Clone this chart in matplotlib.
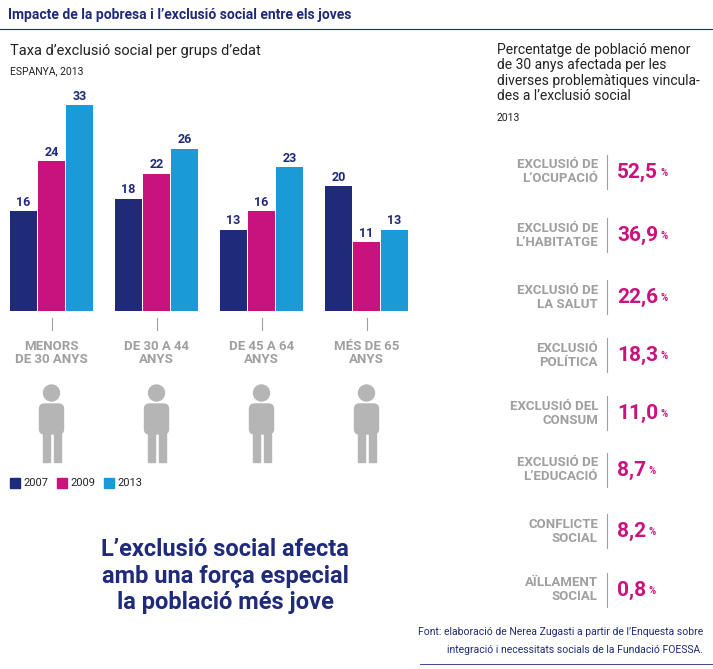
import matplotlib
matplotlib.use("Agg")
import matplotlib.pyplot as plt
from matplotlib.patches import Circle, FancyBboxPatch, Rectangle

plt.rcParams["font.family"] = ["Roboto", "DejaVu Sans"]

NAVY = "#1f2a7a"
MAGENTA = "#c8137f"
CYAN = "#1a9bd7"
GREY = "#a0a0a0"

groups = ["MENORS\nDE 30 ANYS", "DE 30 A 44\nANYS", "DE 45 A 64\nANYS", "MÉS DE 65\nANYS"]
years = ["2007", "2009", "2013"]
v2007 = [16, 18, 13, 20]
v2009 = [24, 22, 16, 11]
v2013 = [33, 26, 23, 13]

issues = ["EXCLUSIÓ DE\nL’OCUPACIÓ", "EXCLUSIÓ DE\nL’HABITATGE", "EXCLUSIÓ DE\nLA SALUT",
          "EXCLUSIÓ\nPOLÍTICA", "EXCLUSIÓ DEL\nCONSUM", "EXCLUSIÓ DE\nL’EDUCACIÓ",
          "CONFLICTE\nSOCIAL", "AÏLLAMENT\nSOCIAL"]
issue_vals = ["52,5", "36,9", "22,6", "18,3", "11,0", "8,7", "8,2", "0,8"]

W, H = 713, 669
fig = plt.figure(figsize=(W / 100, H / 100), dpi=100)
bg = fig.add_axes([0, 0, 1, 1])
bg.set_xlim(0, W)
bg.set_ylim(H, 0)
bg.axis("off")

# title
bg.text(8, 15, "Impacte de la pobresa i l’exclusió social entre els joves",
        fontsize=10, fontweight="bold", color=NAVY, va="center")
bg.plot([0, W], [29, 29], color=NAVY, lw=0.8)
bg.text(10, 51, "Taxa d’exclusió social per grups d’edat", fontsize=10.5, color="#222222", va="center")
bg.text(10, 71, "ESPANYA, 2013", fontsize=7.5, color="#222222", va="center")

# bars
ax = fig.add_axes([10 / W, (H - 311) / H, 400 / W, 206 / H])
ax.set_xlim(0, 400)
ax.set_ylim(0, 33)
ax.axis("off")
centers = [41.5 + 105 * i for i in range(len(groups))]
for off, vals, col in zip([-28, 0, 28], [v2007, v2009, v2013], [NAVY, MAGENTA, CYAN]):
    xs = [c + off for c in centers]
    ax.bar(xs, vals, width=27, color=col)
    for x, v in zip(xs, vals):
        ax.text(x, v + 0.4, str(v), ha="center", va="bottom", fontsize=9,
                fontweight="bold", color=NAVY)

for i, g in enumerate(groups):
    cx = 10 + centers[i]
    bg.plot([cx, cx], [318, 330], color=GREY, lw=0.8)
    bg.text(cx, 353, g, ha="center", va="center", fontsize=9.5, fontweight="bold",
            color=GREY, linespacing=1.0)
    # simple person icon
    bg.add_patch(Circle((cx, 393), 8, color="#b5b5b5"))
    bg.add_patch(FancyBboxPatch((cx - 12, 404), 24, 30, boxstyle="round,pad=0,rounding_size=5",
                                color="#b5b5b5"))
    bg.add_patch(Rectangle((cx - 9, 434), 7, 28, color="#b5b5b5"))
    bg.add_patch(Rectangle((cx + 2, 434), 7, 28, color="#b5b5b5"))

# legend
lx = 10
for y, col in zip(years, [NAVY, MAGENTA, CYAN]):
    bg.add_patch(Rectangle((lx, 478), 10, 10, color=col))
    bg.text(lx + 13, 483, y, fontsize=8, va="center", color="#222222")
    lx += 47

bg.text(225, 576, "L’exclusió social afecta\namb una força especial\nla població més jove",
        ha="center", va="center", fontsize=17, fontweight="bold", color=NAVY, linespacing=1.2)

# right panel
bg.text(497, 73, "Percentatge de població menor\nde 30 anys afectada per les\ndiverses problemàtiques vincula-\ndes a l’exclusió social",
        fontsize=10, va="center", color="#222222", linespacing=1.1)
bg.text(497, 118, "2013", fontsize=7.5, va="center", color="#222222")
rows = [172, 235, 297, 355, 413, 470, 531, 590]
for y, lab, val in zip(rows, issues, issue_vals):
    bg.text(598, y, lab, ha="right", va="center", fontsize=9.5, fontweight="bold",
            color=GREY, linespacing=1.1)
    bg.plot([607, 607], [y - 17, y + 17], color=GREY, lw=0.8)
    t = bg.text(617, y, val, ha="left", va="center", fontsize=15, fontweight="bold", color=MAGENTA)
    bg.annotate("%", xy=(1, 0.2), xycoords=t, xytext=(2, 0), textcoords="offset points",
                ha="left", va="bottom", fontsize=7, fontweight="bold", color=MAGENTA)

bg.text(703, 632, "Font: elaboració de Nerea Zugasti a partir de l’Enquesta sobre",
        ha="right", va="center", fontsize=7.5, color=NAVY)
bg.text(703, 650, "integració i necessitats socials de la Fundació FOESSA.",
        ha="right", va="center", fontsize=7.5, color=NAVY)
bg.plot([420, W], [664, 664], color=NAVY, lw=0.6)

fig.savefig("out.png", dpi=100)
